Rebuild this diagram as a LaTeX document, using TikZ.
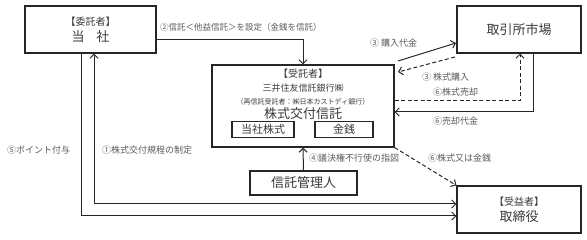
\documentclass[tikz,border=0pt]{standalone}
\usepackage{fontspec}
\setmainfont{Noto Sans CJK JP}
\usetikzlibrary{arrows.meta}
\definecolor{linec}{HTML}{262626}
\definecolor{txtc}{HTML}{3A3A3A}
\definecolor{labc}{HTML}{5A5A5A}
\newcommand{\fs}[1]{\fontsize{#1}{#1}\selectfont}
\begin{document}
\begin{tikzpicture}[x=1pt,y=-1pt,
  boxn/.style={draw=linec, line width=1.1pt, inner sep=0pt, text=txtc, align=center},
  lbl/.style={text=labc, font=\fs{9}, inner sep=0pt, anchor=west},
  arr/.style={-{Straight Barb[length=4pt,width=8pt]}, line width=1pt, draw=linec},
  dsh/.style={dash pattern=on 4pt off 2.5pt}]
\useasboundingbox (0,0) rectangle (587,240);
% boxes
\node[boxn, minimum width=131pt, minimum height=47pt] (tosha) at (90.5,29.5)
  {{\fs{10}【委託者】}\\[4pt]{\fs{13}当\hspace{0.9em}社}};
\node[boxn, minimum width=124pt, minimum height=47pt] (exch) at (519,29.5)
  {\fs{13}取引所市場};
\node[boxn, minimum width=182pt, minimum height=82pt] (trust) at (303,106) {};
\node[text=txtc, align=center, inner sep=0pt, anchor=north] (trusttxt) at (303,69)
  {{\fs{10}【受託者】}\\[2pt]{\fs{9}三井住友信託銀行㈱}\\[1pt]{\fs{7}（再信託受託者：㈱日本カストディ銀行）}\\[2pt]{\fs{13}株式交付信託}};
\node[boxn, minimum width=62pt, minimum height=16pt, font=\fs{11}] (stock) at (263,129.5) {当社株式};
\node[boxn, minimum width=58pt, minimum height=16pt, font=\fs{11}] (cash) at (344,129.5) {金銭};
\node[boxn, minimum width=107pt, minimum height=24pt, font=\fs{13}] (kanri) at (303.5,183) {信託管理人};
\node[boxn, minimum width=124pt, minimum height=47pt] (dir) at (519,209.5)
  {{\fs{10}【受益者】}\\[4pt]{\fs{13}取締役}};
% coordinates
\coordinate (c2) at (303,40);
\coordinate (p3a) at (398,61);
\coordinate (p3b) at (456,43);
\coordinate (q3a) at (455,57);
\coordinate (q3b) at (398,72);
\coordinate (c6a) at (520,101);
\coordinate (c6b) at (533,112);
\coordinate (c1) at (94,204);
\coordinate (c5) at (81,216);
% connectors
\draw[arr] (tosha.east |- c2) -- (c2) -- (trust.north);
\draw[arr] (p3a) -- (p3b);
\draw[arr, dsh] (q3a) -- (q3b);
\draw[arr, dsh] (trust.east |- c6a) -- (c6a) -- (exch.south -| c6a);
\draw[arr] (exch.south -| c6b) -- (c6b) -- (trust.east |- c6b);
\draw[arr, dsh] (trust.south east) -- (dir.north west);
\draw[arr] (kanri.north) -- (trust.south);
\draw[arr, {Straight Barb[length=4pt,width=8pt]}-{Straight Barb[length=4pt,width=8pt]}] (tosha.south -| c1) -- (c1) -- (dir.west |- c1);
\draw[arr] (tosha.south -| c5) -- (c5) -- (dir.west |- c5);
% labels
\node[lbl, font=\fs{8.5}] (l2) at (160,27) {②信託＜他益信託＞を設定（金銭を信託）};
\node[lbl] (l3a) at (370,43) {③ 購入代金};
\node[lbl] (l3b) at (422,77) {③ 株式購入};
\node[lbl] (l6a) at (433,92) {⑥株式売却};
\node[lbl] (l6b) at (433,121) {⑥売却代金};
\node[lbl] (l6c) at (428,158) {⑥株式又は金銭};
\node[lbl] (l4) at (309,158) {④議決権不行使の指図};
\node[lbl] (l1) at (102,150) {①株式交付規程の制定};
\node[lbl] (l5) at (7,150) {⑤ポイント付与};
\end{tikzpicture}
\end{document}
